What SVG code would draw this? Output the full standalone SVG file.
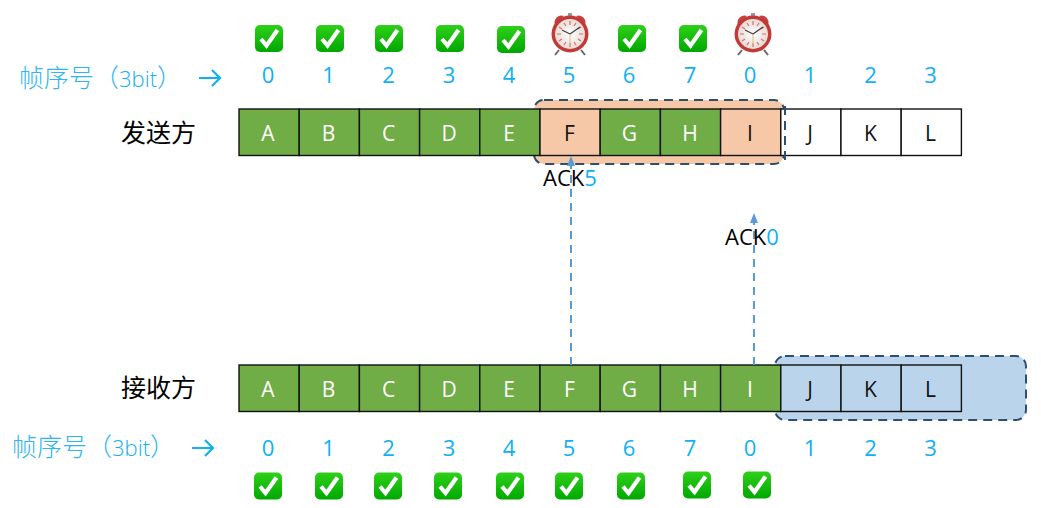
<svg xmlns="http://www.w3.org/2000/svg" xmlns:xlink="http://www.w3.org/1999/xlink" width="1041" height="508" viewBox="0 0 1041 508">
<style>
text{font-family:"Open Sans","Liberation Sans","Noto Sans CJK SC",sans-serif}
.cell{stroke:#111;stroke-width:1.4}
.g{fill:#70ad47}.o{fill:#f6c8a8}.b{fill:#bad4ec}.w{fill:#fff}
.lw{fill:#fff;font-size:21px;text-anchor:middle}
.lk{fill:#111;font-size:21px;text-anchor:middle}
.n{fill:#0fb0f5;font-size:22px;text-anchor:middle}
.cap{font-family:"Noto Sans CJK SC",sans-serif;font-size:25px;fill:#000}
.seq{font-family:"Noto Sans CJK SC",sans-serif;font-size:25px;fill:#2fb4f4;font-weight:300}
.seq2{font-family:"Open Sans",sans-serif;font-size:22px;fill:#0fb0f5}
.ack{font-size:22px;fill:#000}
.win{stroke:#2f4f6f;stroke-width:2;stroke-dasharray:9 6}
.conn{stroke:#5b9bd5;stroke-width:2;stroke-dasharray:8 6;fill:none}
.ar{fill:none;stroke:#0fb0f5;stroke-width:2.2}
</style>
<defs>
<marker id="ah" markerWidth="10" markerHeight="8" refX="9" refY="4" orient="auto" markerUnits="userSpaceOnUse"><path d="M0 0L10 4L0 8Z" fill="#5b9bd5"/></marker>
<linearGradient id="cg" x1="0" y1="0" x2="0" y2="1"><stop offset="0" stop-color="#2fd01a"/><stop offset="1" stop-color="#00a800"/></linearGradient>
<radialGradient id="face"><stop offset="0" stop-color="#fff"/><stop offset="1" stop-color="#e6dcd8"/></radialGradient>
<g id="chk"><rect x="-14" y="-13.500" width="28" height="27" rx="5" fill="url(#cg)"/><path d="M-8 0.500L-2.500 7L8.500 -8.500" fill="none" stroke="#fff" stroke-width="4.200"/></g>
<g id="clock">
<path d="M-15 -9A7 7 0 0 1 -6 -18Z" fill="#c8413c"/><path d="M15 -9A7 7 0 0 0 6 -18Z" fill="#c8413c"/>
<path d="M-11 16L-15 21M11 16L15 21" stroke="#666" stroke-width="2"/>
<rect x="-2" y="-21" width="4" height="4" fill="#999"/>
<circle r="18.500" cy="0" fill="#c03a37"/><circle r="15" fill="url(#face)"/>
<path d="M0 -13V-9M0 13V9M-13 0H-9M13 0H9M-11 -7L-8 -5M11 -7L8 -5M-11 7L-8 5M11 7L8 5M-6 -11L-4 -8M6 -11L4 -8M-6 11L-4 8M6 11L4 8" stroke="#e26a66" stroke-width="1.200"/>
<path d="M0 0L-8 -4M0 0L10 -7" stroke="#444" stroke-width="1.300"/><path d="M0 0V12" stroke="#d8b070" stroke-width="0.800"/>
</g>
</defs>

<g id="sender-window"><rect class="win o" x="534" y="100" width="250" height="64" rx="10"/></g>
<g id="receiver-window"><rect class="win b" x="775" y="356" width="251" height="64" rx="10"/></g>

<g id="sender">
<text class="cap" x="121" y="142">发送方</text>
<g id="s-A"><rect class="cell g" x="239" y="109" width="60.200" height="46.500"/><text class="lw" x="268" y="141">A</text></g>
<g id="s-B"><rect class="cell g" x="299.200" y="109" width="60.200" height="46.500"/><text class="lw" x="328.500" y="141">B</text></g>
<g id="s-C"><rect class="cell g" x="359.400" y="109" width="60.200" height="46.500"/><text class="lw" x="388.500" y="141">C</text></g>
<g id="s-D"><rect class="cell g" x="419.600" y="109" width="60.200" height="46.500"/><text class="lw" x="449" y="141">D</text></g>
<g id="s-E"><rect class="cell g" x="479.800" y="109" width="60.200" height="46.500"/><text class="lw" x="509" y="141">E</text></g>
<g id="s-F"><rect class="cell o" x="540" y="109" width="60.200" height="46.500"/><text class="lk" x="569.500" y="141">F</text></g>
<g id="s-G"><rect class="cell g" x="600.200" y="109" width="60.200" height="46.500"/><text class="lw" x="629.500" y="141">G</text></g>
<g id="s-H"><rect class="cell g" x="660.400" y="109" width="60.200" height="46.500"/><text class="lw" x="690" y="141">H</text></g>
<g id="s-I"><rect class="cell o" x="720.600" y="109" width="60.200" height="46.500"/><text class="lk" x="750" y="141">I</text></g>
<g id="s-J"><rect class="cell w" x="780.800" y="109" width="60.200" height="46.500"/><text class="lk" x="810" y="141">J</text></g>
<g id="s-K"><rect class="cell w" x="841" y="109" width="60.200" height="46.500"/><text class="lk" x="870.500" y="141">K</text></g>
<g id="s-L"><rect class="cell w" x="901.200" y="109" width="60.200" height="46.500"/><text class="lk" x="930.500" y="141">L</text></g>
<path d="M785 106V164" class="win" fill="none"/>
</g>

<g id="receiver">
<text class="cap" x="121" y="397">接收方</text>
<g id="r-A"><rect class="cell g" x="239" y="365" width="60.200" height="46.500"/><text class="lw" x="268" y="397">A</text></g>
<g id="r-B"><rect class="cell g" x="299.200" y="365" width="60.200" height="46.500"/><text class="lw" x="328.500" y="397">B</text></g>
<g id="r-C"><rect class="cell g" x="359.400" y="365" width="60.200" height="46.500"/><text class="lw" x="388.500" y="397">C</text></g>
<g id="r-D"><rect class="cell g" x="419.600" y="365" width="60.200" height="46.500"/><text class="lw" x="449" y="397">D</text></g>
<g id="r-E"><rect class="cell g" x="479.800" y="365" width="60.200" height="46.500"/><text class="lw" x="509" y="397">E</text></g>
<g id="r-F"><rect class="cell g" x="540" y="365" width="60.200" height="46.500"/><text class="lw" x="569.500" y="397">F</text></g>
<g id="r-G"><rect class="cell g" x="600.200" y="365" width="60.200" height="46.500"/><text class="lw" x="629.500" y="397">G</text></g>
<g id="r-H"><rect class="cell g" x="660.400" y="365" width="60.200" height="46.500"/><text class="lw" x="690" y="397">H</text></g>
<g id="r-I"><rect class="cell g" x="720.600" y="365" width="60.200" height="46.500"/><text class="lw" x="750" y="397">I</text></g>
<g id="r-J"><rect class="cell b" x="780.800" y="365" width="60.200" height="46.500"/><text class="lk" x="810" y="397">J</text></g>
<g id="r-K"><rect class="cell b" x="841" y="365" width="60.200" height="46.500"/><text class="lk" x="870.500" y="397">K</text></g>
<g id="r-L"><rect class="cell b" x="901.200" y="365" width="60.200" height="46.500"/><text class="lk" x="930.500" y="397">L</text></g>
</g>

<g id="connectors">
<path class="conn" d="M571 365V157" marker-end="url(#ah)"/>
<path class="conn" d="M754 365V214" marker-end="url(#ah)"/>
<path class="ar" d="M199 78H220M212 70L220 78L212 86"/>
<path class="ar" d="M192 448H213M205 440L213 448L205 456"/>
</g>

<g id="ack-labels">
<text class="ack" x="543" y="186">ACK<tspan fill="#0fb0f5">5</tspan></text>
<text class="ack" x="725" y="245">ACK<tspan fill="#0fb0f5">0</tspan></text>
</g>

<g id="seq-top">
<text class="seq" x="19" y="87">帧序号（<tspan class="seq2">3bit</tspan>）</text>
<text class="n" x="268" y="83">0</text><text class="n" x="328.500" y="83">1</text><text class="n" x="388.500" y="83">2</text><text class="n" x="449" y="83">3</text><text class="n" x="509" y="83">4</text><text class="n" x="569" y="83">5</text><text class="n" x="629" y="83">6</text><text class="n" x="690" y="83">7</text><text class="n" x="750" y="83">0</text><text class="n" x="810" y="83">1</text><text class="n" x="870.500" y="83">2</text><text class="n" x="930.500" y="83">3</text>
</g>
<g id="seq-bottom">
<text class="seq" x="12" y="456">帧序号（<tspan class="seq2">3bit</tspan>）</text>
<text class="n" x="268" y="456">0</text><text class="n" x="328.500" y="456">1</text><text class="n" x="388.500" y="456">2</text><text class="n" x="449" y="456">3</text><text class="n" x="509" y="456">4</text><text class="n" x="569" y="456">5</text><text class="n" x="629" y="456">6</text><text class="n" x="690" y="456">7</text><text class="n" x="750" y="456">0</text><text class="n" x="810" y="456">1</text><text class="n" x="870.500" y="456">2</text><text class="n" x="930.500" y="456">3</text>
</g>

<g id="status-top">
<use href="#chk" x="269" y="38.500"/><use href="#chk" x="330" y="38.500"/><use href="#chk" x="389" y="38.500"/><use href="#chk" x="450" y="38.500"/><use href="#chk" x="511" y="39.500"/>
<use href="#clock" x="570" y="34"/><use href="#chk" x="632" y="38.500"/><use href="#chk" x="693" y="38.500"/><use href="#clock" x="753" y="34"/>
</g>
<g id="status-bottom">
<use href="#chk" x="268" y="486"/><use href="#chk" x="329" y="486"/><use href="#chk" x="388" y="486"/><use href="#chk" x="448" y="486"/><use href="#chk" x="510" y="486"/><use href="#chk" x="569" y="486"/><use href="#chk" x="631" y="486"/><use href="#chk" x="697" y="485"/><use href="#chk" x="757" y="485"/>
</g>
</svg>
